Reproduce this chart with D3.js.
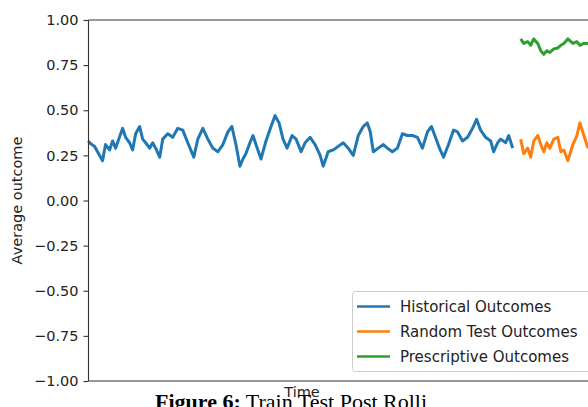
<!DOCTYPE html>
<html><head><meta charset="utf-8">
<script src="https://cdn.jsdelivr.net/npm/d3@7"></script>
<style>
html,body{margin:0;padding:0;background:#fff;overflow:hidden;}
svg{display:block;}
</style></head>
<body>
<svg id="chart" width="588" height="407"></svg>
<script>
// ---- data ----
const histT = [0,1,6,9,14,17,21,24,27,34,37,41,44,47,51,54,57,61,64,67,71,74,79,84,89,94,99,105,109,114,119,124,129,134,139,143,147,151,154,157,161,164,167,172,177,182,186,190,194,198,203,207,212,216,221,226,231,234,239,244,249,254,259,264,269,274,278,281,284,289,294,298,303,308,313,318,323,328,333,338,342,346,350,354,359,364,368,373,378,383,387,391,396,401,404,408,411,416,419,423];
const histV = [0.33,0.32,0.30,0.27,0.22,0.31,0.28,0.33,0.29,0.40,0.35,0.32,0.28,0.37,0.41,0.34,0.32,0.29,0.32,0.29,0.24,0.34,0.37,0.35,0.40,0.39,0.32,0.24,0.34,0.40,0.34,0.29,0.27,0.31,0.38,0.41,0.31,0.19,0.23,0.26,0.32,0.36,0.31,0.23,0.33,0.41,0.47,0.43,0.34,0.29,0.36,0.34,0.27,0.32,0.35,0.31,0.25,0.19,0.27,0.28,0.30,0.32,0.29,0.25,0.36,0.41,0.43,0.38,0.27,0.29,0.31,0.29,0.27,0.29,0.37,0.36,0.36,0.35,0.29,0.38,0.41,0.35,0.29,0.24,0.31,0.39,0.38,0.33,0.35,0.40,0.45,0.39,0.35,0.33,0.27,0.32,0.34,0.32,0.36,0.29];
const testT = [431,434,438,441,444,448,451,454,457,460,464,468,471,474,478,483,487,490,494,498];
const randV = [0.34,0.26,0.29,0.24,0.33,0.36,0.31,0.27,0.32,0.29,0.34,0.35,0.27,0.28,0.22,0.31,0.36,0.43,0.36,0.29];
const presV = [0.895,0.87,0.88,0.86,0.895,0.87,0.83,0.81,0.83,0.82,0.84,0.845,0.86,0.87,0.895,0.87,0.88,0.86,0.87,0.87];
const yTicks = [1.00,0.75,0.50,0.25,0.00,-0.25,-0.50,-0.75,-1.00];
const seriesNames = ["Historical Outcomes","Random Test Outcomes","Prescriptive Outcomes"];
const seriesColors = ["#1f77b4","#ff7f0e","#2ca02c"];
const yLabel = "Average outcome";
const xLabel = "Time";
const captionBold = "Figure 6:";
const captionText = " Train Test Post Rolli";

// ---- layout ----
const svg = d3.select("#chart");
const mL = 88.5, mT = 20, mB = 381, mR = 620;
const FONT = "'DejaVu Sans', sans-serif";
const fs = 14.5;

const x = d3.scaleLinear().domain([0, 530]).range([mL, mR]);
const y = d3.scaleLinear().domain([-1, 1]).range([mB, mT]);

// lines
const line = d3.line().x(d => x(d[0])).y(d => y(d[1]));
const series = [
  d3.zip(histT, histV),
  d3.zip(testT, randV),
  d3.zip(testT, presV)
];
svg.append("g").selectAll("path").data(series).join("path")
  .attr("d", line)
  .attr("fill", "none")
  .attr("stroke", (d,i) => seriesColors[i])
  .attr("stroke-width", 3)
  .attr("stroke-linejoin", "round");

// spines
const sp = svg.append("g").attr("stroke", "#333").attr("stroke-width", 1.1).attr("fill","none");
sp.append("line").attr("x1", mL).attr("x2", mL).attr("y1", mT).attr("y2", mB);
sp.append("line").attr("x1", mL).attr("x2", 600).attr("y1", mT).attr("y2", mT);
sp.append("line").attr("x1", mL).attr("x2", 600).attr("y1", mB).attr("y2", mB);

// y axis
const yAxis = d3.axisLeft(y).tickValues(yTicks).tickSize(5).tickPadding(5)
  .tickFormat(d => d3.format(".2f")(d).replace("-", "\u2212"));
const gy = svg.append("g").attr("transform", `translate(${mL},0)`).call(yAxis);
gy.select(".domain").remove();
gy.selectAll(".tick line").attr("stroke", "#333").attr("stroke-width", 1.1);
gy.selectAll(".tick text").attr("font-family", FONT).attr("font-size", fs).attr("fill", "#222");

// axis labels
svg.append("text").attr("transform", `translate(22,${(mT+mB)/2}) rotate(-90)`)
  .attr("text-anchor", "middle").attr("font-family", FONT).attr("font-size", fs).attr("fill", "#222")
  .text(yLabel);
svg.append("text").attr("x", 302).attr("y", 397)
  .attr("text-anchor", "middle").attr("font-family", FONT).attr("font-size", fs).attr("fill", "#222")
  .text(xLabel);

// legend
const lg = svg.append("g");
lg.append("rect").attr("x", 352.5).attr("y", 291.5).attr("width", 260).attr("height", 80)
  .attr("rx", 3).attr("fill", "#fff").attr("fill-opacity", 0.85).attr("stroke", "#ccc");
seriesNames.forEach((n, i) => {
  const yy = 306.5 + i * 25;
  lg.append("line").attr("x1", 357).attr("x2", 390).attr("y1", yy).attr("y2", yy)
    .attr("stroke", seriesColors[i]).attr("stroke-width", 2.6);
  lg.append("text").attr("x", 400).attr("y", yy + 5.3).attr("font-family", FONT).attr("font-size", 15)
    .attr("fill", "#222").text(n);
});

// caption
const cap = svg.append("text").attr("x", 155).attr("y", 409)
  .attr("font-family", "'Liberation Serif', 'Times New Roman', serif").attr("font-size", 22).attr("fill", "#000");
cap.append("tspan").attr("font-weight", "bold").text(captionBold);
cap.append("tspan").text(captionText);
</script>
</body></html>
